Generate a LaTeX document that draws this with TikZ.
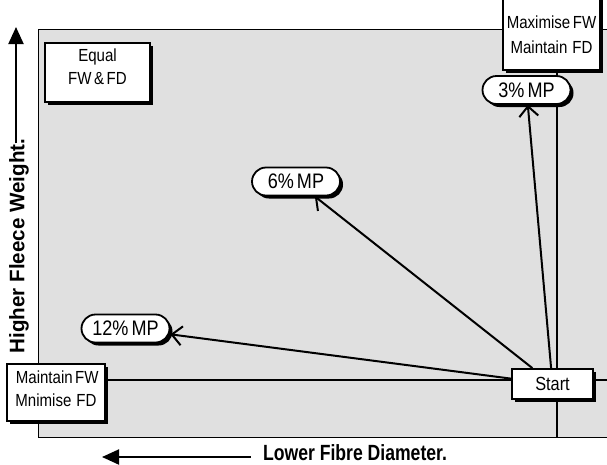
\documentclass[tikz,border=0pt]{standalone}
\usepackage{fontspec}
\setmainfont{Liberation Sans}
\newfontfamily\boxfont[FakeStretch=0.86, WordSpace=0.6]{Liberation Sans}
\newfontfamily\xaxisfont[FakeStretch=0.8]{Liberation Sans}
\newfontfamily\yaxisfont[FakeStretch=0.98]{Liberation Sans}
\usetikzlibrary{arrows.meta, positioning, shadows}

\begin{document}
\begin{tikzpicture}[
  x=1pt, y=-1pt,
  panel/.style={draw=black, line width=1pt, fill=black!12},
  gridline/.style={draw=black, line width=1.1pt},
  shade/.style={drop shadow={shadow xshift=3pt, shadow yshift=-3pt, fill=black, opacity=1}},
  box/.style={rectangle, draw=black, line width=1.8pt, fill=white, shade, inner sep=0pt},
  boxtext/.style={align=center, inner sep=0pt, font=\boxfont\fontsize{17.5}{23}\selectfont},
  pill/.style={rectangle, rounded corners=14pt, draw=black, line width=1.8pt, fill=white, shade,
               minimum width=88pt, minimum height=28pt, inner sep=0pt,
               font=\boxfont\fontsize{21}{22}\selectfont},
  arrow/.style={-{Straight Barb[length=10pt, width=19pt]}, line width=2pt},
  axisarrow/.style={-{Triangle[length=17pt, width=15pt]}, line width=2pt},
  axislabel/.style={inner sep=0pt}
]
\useasboundingbox (0,0) rectangle (607,464);
\clip (0,0) rectangle (607,464);

% Grey field with the two cross lines through the start point
\path[panel] (38,29.5) rectangle (620,437);
\draw[gridline] (557,29.5) -- (557,437);
\draw[gridline] (38,380) -- (620,380);

% Corner boxes
\node[box, minimum width=105pt, minimum height=59pt] (equal) at (97.5,72.5) {};
\node[boxtext, below=7pt of equal.north] (equaltxt) {Equal\\FW \& FD};

\node[box, minimum width=97pt, minimum height=73pt] (maxfw) at (551.5,33.5) {};
\node[boxtext, font=\boxfont\fontsize{17.5}{25}\selectfont] (maxfwtxt) at (551.5,35) {Maximise FW\\Maintain\ \ FD};

\node[box, minimum width=98pt, minimum height=57pt] (minfd) at (56,392.5) {};
\node[boxtext, below=8pt of minfd.north] (minfdtxt) {\ Maintain FW\\Mnimise\ \ FD};

% Start and the three selection outcomes
\node[box, minimum width=81pt, minimum height=30pt, font=\boxfont\fontsize{19}{20}\selectfont] (start) at (552.5,384) {Start};

\node[pill] (mp3) at (526.5,90) {3\% MP};
\node[pill] (mp6) at (296,181.5) {6\% MP};
\node[pill] (mp12) at (125.5,328.5) {12\% MP};

\draw[arrow] (start) -- (mp12);
\draw[arrow] (start) -- (mp6);
\draw[arrow] (start) -- (mp3);

% Axis labels
\node[axislabel, anchor=base, font=\xaxisfont\bfseries\fontsize{22}{24}\selectfont] (xlab) at (355,460) {Lower Fibre Diameter.};
\coordinate (xtip) at (102,457);
\draw[axisarrow] ([xshift=-12pt]xlab.west |- xtip) -- (xtip);

\node[axislabel, rotate=90, font=\yaxisfont\bfseries\fontsize{21}{24}\selectfont] (ylab) at (19,246) {Higher Fleece Weight.};
\coordinate (ytip) at (16,27);
\draw[axisarrow] ([yshift=-5pt]ylab.east -| ytip) -- (ytip);

\end{tikzpicture}
\end{document}
